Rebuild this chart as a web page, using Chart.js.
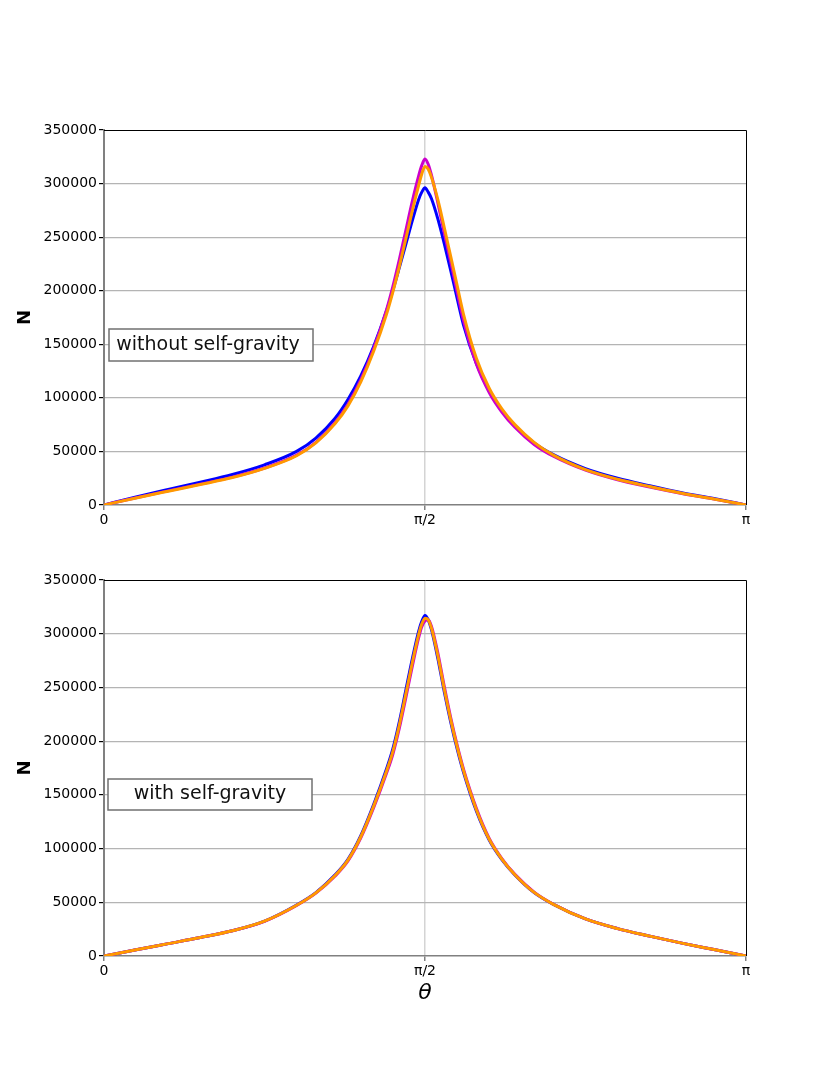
<!DOCTYPE html>
<html>
<head>
<meta charset="utf-8">
<script src="https://cdn.jsdelivr.net/npm/chart.js@4.4.1/dist/chart.umd.min.js"></script>
<style>
    html, body { margin: 0; padding: 0; background: #fff; }
    .box { position: absolute; left: 0; width: 830px; }
</style>
</head>
<body>
<div class="box" style="top:0;height:540px"><canvas id="topChart"></canvas></div>
<div class="box" style="top:540px;height:534px"><canvas id="bottomChart"></canvas></div>
<script>
// theta in units of pi
const THETA = [0, 0.05, 0.1, 0.15, 0.2, 0.25, 0.3, 0.33, 0.36, 0.38, 0.4, 0.42, 0.44, 0.45, 0.46, 0.47, 0.48, 0.49, 0.495, 0.5,
    0.505, 0.51, 0.52, 0.53, 0.54, 0.55, 0.56, 0.58, 0.6, 0.62, 0.64, 0.67, 0.7, 0.75, 0.8, 0.85, 0.9, 0.95, 1];

// without self-gravity
const TOP_BLUE = [0, 7500, 14500, 21300, 28500, 37500, 50000, 62500, 81000, 98500, 120500, 148000, 181000, 200500, 221500, 243000, 265000, 285000, 292000, 296000,
    292000, 286000, 267000, 244000, 219000, 193000, 168000, 132000, 106500, 88000, 74000, 58000, 47000, 34000, 25000, 18000, 11500, 6000, 0];
const TOP_MAGENTA = [0, 6800, 13200, 19500, 26000, 34500, 46500, 58500, 77000, 94000, 117000, 146000, 182000, 204000, 229000, 256000, 283000, 307000, 317000, 323000,
    318000, 308000, 282000, 254000, 227000, 199000, 172000, 131500, 105000, 86500, 72500, 56500, 45500, 32500, 23500, 16800, 10800, 5500, 0];
const TOP_ORANGE = [0, 6600, 12900, 19100, 25600, 34200, 46000, 58000, 76000, 92500, 115000, 143500, 178000, 199000, 222500, 248000, 274000, 298000, 309000, 316000,
    313500, 306000, 285000, 259000, 232000, 205000, 178000, 137000, 109000, 89500, 75000, 58500, 46500, 33000, 24000, 17200, 11000, 5600, 0];

// with self-gravity
const BOT_BLUE = [0, 5800, 11500, 17200, 23500, 32500, 47500, 59000, 75500, 90000, 112000, 141000, 174000, 193000, 218000, 247000, 276000, 302000, 311500, 317000,
    313000, 304000, 277000, 246000, 218000, 193000, 171000, 135000, 108000, 89500, 75500, 59000, 48000, 34500, 25500, 18500, 12000, 6000, 0];
const BOT_MAGENTA = [0, 5800, 11500, 17200, 23500, 32300, 47000, 58500, 74500, 88500, 110000, 138000, 170000, 188000, 212000, 240000, 269000, 296000, 306500, 312000,
    313000, 307000, 282000, 251000, 222000, 196500, 174000, 137500, 109500, 90500, 76000, 59500, 48200, 34600, 25500, 18500, 12000, 6000, 0];
const BOT_ORANGE = [0, 5800, 11500, 17200, 23500, 32400, 47200, 58800, 75000, 89300, 111000, 139500, 172000, 190500, 215000, 243500, 272500, 299000, 309000, 314500,
    313000, 305500, 279500, 248500, 220000, 194800, 172500, 136200, 108700, 90000, 75700, 59200, 48100, 34500, 25500, 18500, 12000, 6000, 0];

const Y_TICKS = [0, 50000, 100000, 150000, 200000, 250000, 300000, 350000];
const X_TICKS = [0, 0.5, 1];
const X_LABELS = ['0', 'π/2', 'π'];

const COLORS = ['#0000ff', '#cc00cc', '#ff9900'];

function toPoints(ys) {
    return THETA.map((t, i) => ({ x: t, y: ys[i] }));
}

const framePlugin = {
    id: 'frame',
    afterDraw(chart, args, opts) {
        const { ctx, chartArea: a } = chart;
        ctx.save();
        // top and right borders
        ctx.strokeStyle = '#000';
        ctx.lineWidth = 1;
        ctx.beginPath();
        ctx.moveTo(a.left, a.top + 0.5);
        ctx.lineTo(a.right + 0.5, a.top + 0.5);
        ctx.lineTo(a.right + 0.5, a.bottom);
        ctx.stroke();

        // text box
        const b = opts.box;
        ctx.fillStyle = '#fff';
        ctx.fillRect(b.x, b.y, b.w, b.h);
        ctx.strokeStyle = '#707070';
        ctx.lineWidth = 1.5;
        ctx.strokeRect(b.x, b.y, b.w, b.h);
        ctx.fillStyle = '#111';
        ctx.font = '19px "DejaVu Sans"';
        ctx.textAlign = 'center';
        ctx.textBaseline = 'middle';
        ctx.fillText(b.text, b.x + b.w / 2 + b.dx, b.y + b.h / 2);

        // y title
        ctx.save();
        ctx.translate(25, (a.top + a.bottom) / 2);
        ctx.rotate(-Math.PI / 2);
        ctx.font = 'bold 18px "DejaVu Sans"';
        ctx.fillStyle = '#000';
        ctx.fillText('N', 0, 0);
        ctx.restore();

        if (opts.xTitle) {
            ctx.font = 'italic 22px "DejaVu Sans"';
            ctx.fillStyle = '#000';
            ctx.fillText(opts.xTitle, (a.left + a.right) / 2, opts.xTitleY);
        }
        ctx.restore();
    }
};

function makeChart(id, series, padTop, padBottom, box, xTitle, xTitleY) {
    const ctx = document.getElementById(id).getContext('2d');
    return new Chart(ctx, {
        type: 'line',
        data: {
            datasets: series.map((ys, i) => ({
                data: toPoints(ys),
                borderColor: COLORS[i],
                borderWidth: 3,
                pointRadius: 0,
                cubicInterpolationMode: 'monotone',
                fill: false,
                order: series.length - i,
            })),
        },
        options: {
            responsive: true,
            maintainAspectRatio: false,
            animation: false,
            layout: { padding: { top: padTop, bottom: padBottom, left: 0, right: 84 } },
            plugins: {
                legend: { display: false },
                tooltip: { enabled: false },
                frame: { box: box, xTitle: xTitle, xTitleY: xTitleY },
            },
            scales: {
                x: {
                    type: 'linear',
                    min: 0,
                    max: 1,
                    afterBuildTicks: (s) => { s.ticks = X_TICKS.map(v => ({ value: v })); },
                    afterFit: (s) => { s.height = 30; },
                    ticks: {
                        autoSkip: false,
                        maxRotation: 0,
                        padding: 2,
                        color: '#000',
                        font: { family: 'DejaVu Sans', size: 14 },
                        callback: (v) => X_LABELS[X_TICKS.indexOf(v)],
                    },
                    grid: {
                        color: (c) => (c.tick && c.tick.value === 0.5 ? '#d4d4d4' : 'rgba(0,0,0,0)'),
                        lineWidth: 1.5,
                        tickColor: '#808080',
                        tickLength: 5,
                    },
                    border: { color: '#808080', width: 1.5 },
                },
                y: {
                    min: 0,
                    max: 350000,
                    afterBuildTicks: (s) => { s.ticks = Y_TICKS.map(v => ({ value: v })); },
                    afterFit: (s) => { s.width = 104; },
                    ticks: {
                        padding: 2,
                        color: '#000',
                        font: { family: 'DejaVu Sans', size: 14 },
                        callback: (v) => String(v),
                    },
                    grid: {
                        color: (c) => (c.tick && (c.tick.value === 0 || c.tick.value === 350000) ? 'rgba(0,0,0,0)' : '#b4b4b4'),
                        lineWidth: 1.2,
                        tickColor: '#000',
                        tickLength: 5,
                    },
                    border: { color: '#808080', width: 2 },
                },
            },
        },
        plugins: [framePlugin],
    });
}

makeChart('topChart', [TOP_BLUE, TOP_MAGENTA, TOP_ORANGE], 130, 5,
    { x: 109, y: 329, w: 204, h: 32, text: 'without self-gravity', dx: -3 }, null, 0);
makeChart('bottomChart', [BOT_BLUE, BOT_MAGENTA, BOT_ORANGE], 40, 88,
    { x: 108, y: 239, w: 204, h: 31, text: 'with self-gravity', dx: 0 }, 'θ', 453);
</script>
</body>
</html>
